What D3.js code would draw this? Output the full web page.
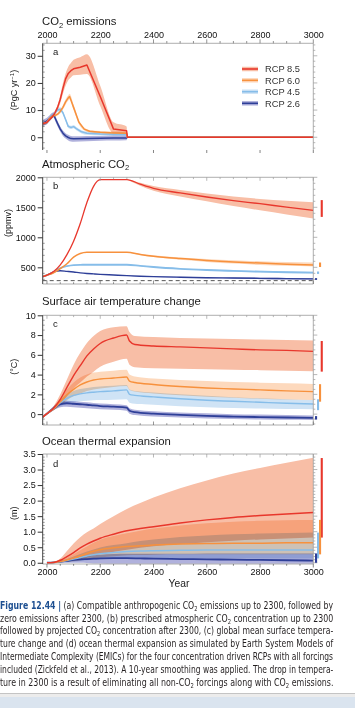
<!DOCTYPE html>
<html><head><meta charset="utf-8">
<script src="https://cdn.jsdelivr.net/npm/d3@7/dist/d3.min.js"></script>
<style>
html,body{margin:0;padding:0;background:#fff;}
svg{display:block;}
</style></head>
<body><svg id="c" width="355" height="708"></svg>
<script>
// ---------------- DATA ----------------
const rcpNames = ['RCP 8.5', 'RCP 6.0', 'RCP 4.5', 'RCP 2.6'];
const xTickYears = [2000, 2200, 2400, 2600, 2800, 3000];

// (a) CO2 emissions (PgC/yr)
const emisYears85 = [1984, 2000, 2010, 2020, 2030, 2040, 2050, 2060, 2070, 2080, 2090, 2100, 2125, 2150, 2200, 2250, 2299, 2302, 3000];
const emis85   = [5.0, 5.5, 6.5, 7.5, 9.0, 11.0, 14.0, 18.0, 21.5, 23.5, 24.5, 25.2, 25.8, 26.6, 15.0, 3.0, 2.4, 0, 0];
const emis85Lo = [4.5, 5.0, 6.0, 7.0, 8.5, 10.0, 12.5, 16.0, 19.0, 21.0, 22.0, 22.8, 23.0, 23.3, 11.5, 1.5, 1.5, 0, 0];
const emis85Hi = [5.5, 6.2, 7.2, 8.2, 9.8, 12.0, 15.5, 20.0, 23.5, 26.0, 27.3, 28.5, 29.5, 30.6, 19.0, 5.5, 4.0, 0, 0];

const emisYears60 = [1984, 2000, 2010, 2020, 2030, 2040, 2050, 2060, 2070, 2080, 2085, 2100, 2120, 2140, 2160, 2200, 2250, 2299, 2302, 3000];
const emis60   = [5.0, 5.5, 7.0, 7.8, 8.0, 8.5, 9.5, 11.0, 13.0, 14.5, 15.0, 11.0, 5.5, 3.0, 2.2, 1.8, 1.6, 1.5, 0, 0];
const emis60Lo = [4.7, 5.2, 6.6, 7.3, 7.5, 8.0, 8.8, 10.2, 12.0, 13.5, 14.0, 10.0, 4.8, 2.5, 1.8, 1.4, 1.2, 1.0, 0, 0];
const emis60Hi = [5.3, 5.8, 7.4, 8.3, 8.5, 9.0, 10.2, 11.8, 14.0, 15.5, 16.0, 12.0, 6.3, 3.6, 2.7, 2.3, 2.1, 2.0, 0, 0];

const emisYears45 = [1984, 2000, 2010, 2020, 2030, 2040, 2050, 2060, 2070, 2080, 2090, 2100, 2110, 2130, 2150, 2200, 2250, 2299, 2302, 3000];
const emis45   = [5.0, 5.5, 7.0, 8.0, 9.0, 10.0, 10.3, 9.0, 6.5, 4.0, 3.6, 3.9, 3.2, 2.0, 1.5, 1.2, 1.1, 1.0, 0, 0];
const emis45Lo = [4.5, 5.0, 6.4, 7.4, 8.4, 9.4, 9.6, 8.3, 5.8, 3.4, 3.0, 3.3, 2.6, 1.4, 0.9, 0.6, 0.5, 0.4, 0, 0];
const emis45Hi = [5.5, 6.0, 7.6, 8.6, 9.6, 10.6, 11.0, 9.7, 7.2, 4.6, 4.2, 4.5, 3.8, 2.6, 2.1, 1.8, 1.7, 1.6, 0, 0];

const emisYears26 = [1984, 1990, 2000, 2010, 2020, 2025, 2030, 2040, 2050, 2060, 2070, 2080, 2090, 2100, 2150, 2200, 2250, 2299, 2302, 3000];
const emis26   = [5.0, 5.5, 6.0, 7.0, 8.0, 8.2, 7.2, 5.0, 3.0, 1.5, 0.5, -0.1, -0.5, -0.6, -0.5, -0.4, -0.3, -0.3, 0, 0];
const emis26Lo = [3.8, 4.3, 4.8, 5.9, 7.0, 7.3, 6.2, 4.0, 2.0, 0.5, -0.5, -1.2, -1.6, -1.7, -1.5, -1.3, -1.2, -1.1, 0, 0];
const emis26Hi = [6.3, 6.7, 7.2, 8.1, 9.0, 9.2, 8.2, 6.0, 4.0, 2.5, 1.5, 0.9, 0.5, 0.4, 0.5, 0.5, 0.6, 0.6, 0, 0];

// (b) Atmospheric CO2 (ppmv)
const co2Years = [1984, 2000, 2025, 2050, 2075, 2100, 2125, 2150, 2175, 2200, 2250, 2300, 2350, 2400, 2500, 2600, 2700, 2800, 2900, 3000];
const co285 = [345, 369, 430, 541, 712, 936, 1231, 1580, 1850, 1960, 1962, 1962, 1885, 1815, 1740, 1672, 1612, 1560, 1503, 1450];
const co260 = [345, 369, 410, 478, 560, 670, 730, 750, 752, 752, 752, 752, 715, 685, 645, 615, 590, 570, 553, 540];
const co245 = [345, 369, 420, 487, 520, 538, 542, 543, 543, 543, 543, 543, 525, 505, 475, 455, 440, 428, 418, 410];
const co226 = [345, 369, 425, 443, 432, 421, 408, 398, 390, 383, 372, 361, 352, 345, 335, 327, 321, 316, 312, 308];
const co2BandYears = [2300, 2350, 2400, 2500, 2600, 2700, 2800, 2900, 3000];
const co285Lo = [1962, 1860, 1775, 1680, 1600, 1520, 1450, 1380, 1315];
const co285Hi = [1962, 1910, 1855, 1790, 1730, 1680, 1640, 1610, 1585];
const co260Lo = [752, 705, 670, 625, 590, 562, 540, 525, 515];
const co260Hi = [752, 725, 700, 665, 640, 618, 600, 588, 580];
const co245Lo = [543, 520, 498, 466, 445, 428, 415, 404, 395];
const co245Hi = [543, 530, 512, 484, 465, 452, 442, 435, 428];
const co226Lo = [361, 348, 340, 328, 318, 310, 303, 298, 293];
const co226Hi = [361, 356, 350, 342, 336, 332, 328, 324, 320];
const preindustrialCO2 = 278;

// (c) Surface air temperature change (degC)
const tYears = [1984, 2000, 2025, 2050, 2075, 2100, 2125, 2150, 2175, 2200, 2250, 2299, 2310, 2330, 2400, 2500, 2600, 2700, 2800, 2900, 3000];
const t85   = [-0.3, 0.05, 0.6, 1.5, 2.7, 3.9, 4.9, 5.9, 6.6, 7.15, 7.7, 8.0, 7.4, 7.05, 6.9, 6.8, 6.7, 6.6, 6.5, 6.45, 6.35];
const t85Lo = [-0.4, -0.05, 0.4, 1.0, 1.8, 2.6, 3.2, 3.8, 4.3, 4.8, 5.3, 5.6, 5.0, 4.75, 4.65, 4.6, 4.55, 4.5, 4.45, 4.4, 4.35];
const t85Hi = [-0.2, 0.15, 0.8, 2.0, 3.5, 5.0, 6.2, 7.2, 7.9, 8.4, 8.8, 8.9, 8.3, 7.9, 7.8, 7.7, 7.65, 7.6, 7.55, 7.5, 7.45];
const t60   = [-0.3, 0.05, 0.55, 1.25, 1.95, 2.5, 2.95, 3.25, 3.45, 3.55, 3.65, 3.75, 3.35, 3.2, 3.0, 2.8, 2.65, 2.55, 2.45, 2.35, 2.28];
const t60Lo = [-0.4, -0.05, 0.4, 0.9, 1.4, 1.8, 2.1, 2.35, 2.5, 2.6, 2.75, 2.85, 2.45, 2.3, 2.1, 1.9, 1.75, 1.65, 1.55, 1.48, 1.43];
const t60Hi = [-0.2, 0.15, 0.75, 1.6, 2.5, 3.2, 3.7, 4.0, 4.2, 4.3, 4.4, 4.5, 4.0, 3.8, 3.6, 3.45, 3.35, 3.25, 3.18, 3.12, 3.06];
const t45   = [-0.3, 0.05, 0.55, 1.15, 1.6, 1.9, 2.05, 2.15, 2.22, 2.28, 2.35, 2.45, 2.0, 1.9, 1.75, 1.55, 1.4, 1.3, 1.2, 1.1, 1.02];
const t45Lo = [-0.4, -0.05, 0.4, 0.8, 1.05, 1.2, 1.3, 1.35, 1.4, 1.42, 1.45, 1.5, 1.15, 1.05, 0.95, 0.8, 0.7, 0.62, 0.56, 0.52, 0.5];
const t45Hi = [-0.2, 0.15, 0.7, 1.45, 2.0, 2.35, 2.55, 2.65, 2.75, 2.8, 2.88, 2.95, 2.5, 2.35, 2.2, 2.0, 1.85, 1.7, 1.6, 1.5, 1.42];
const t26   = [-0.3, 0.05, 0.6, 1.0, 1.1, 1.05, 1.0, 0.95, 0.88, 0.82, 0.75, 0.65, 0.35, 0.2, 0.05, -0.08, -0.18, -0.25, -0.3, -0.34, -0.37];
const t26Lo = [-0.4, -0.05, 0.4, 0.7, 0.75, 0.7, 0.65, 0.6, 0.55, 0.5, 0.45, 0.35, 0.05, -0.1, -0.25, -0.35, -0.45, -0.5, -0.55, -0.58, -0.6];
const t26Hi = [-0.2, 0.15, 0.8, 1.25, 1.35, 1.3, 1.25, 1.2, 1.13, 1.07, 1.0, 0.9, 0.6, 0.45, 0.3, 0.17, 0.08, 0.0, -0.05, -0.1, -0.13];

// (d) Ocean thermal expansion (m)
const oYears = [2000, 2025, 2050, 2075, 2100, 2125, 2150, 2175, 2200, 2250, 2300, 2350, 2400, 2500, 2600, 2700, 2800, 2900, 3000];
const o85   = [0, 0.01, 0.08, 0.2, 0.33, 0.48, 0.6, 0.7, 0.79, 0.92, 1.03, 1.1, 1.16, 1.28, 1.38, 1.46, 1.52, 1.57, 1.62];
const o85Lo = [0, 0, 0.01, 0.04, 0.08, 0.13, 0.18, 0.23, 0.28, 0.35, 0.42, 0.48, 0.53, 0.6, 0.66, 0.71, 0.75, 0.78, 0.81];
const o85Hi = [0, 0.03, 0.14, 0.38, 0.62, 0.82, 0.98, 1.1, 1.25, 1.5, 1.73, 1.92, 2.1, 2.4, 2.65, 2.87, 3.05, 3.22, 3.38];
const o60   = [0, 0.01, 0.04, 0.09, 0.15, 0.22, 0.3, 0.37, 0.42, 0.48, 0.52, 0.55, 0.57, 0.6, 0.62, 0.63, 0.63, 0.64, 0.64];
const o60Lo = [0, 0, 0.01, 0.03, 0.05, 0.08, 0.11, 0.14, 0.17, 0.21, 0.24, 0.25, 0.26, 0.27, 0.27, 0.27, 0.27, 0.27, 0.27];
const o60Hi = [0, 0.02, 0.07, 0.16, 0.27, 0.4, 0.52, 0.64, 0.74, 0.86, 0.95, 1.03, 1.1, 1.2, 1.27, 1.32, 1.35, 1.37, 1.38];
const o45   = [0, 0.01, 0.03, 0.07, 0.12, 0.17, 0.22, 0.26, 0.29, 0.33, 0.36, 0.38, 0.39, 0.4, 0.41, 0.41, 0.41, 0.41, 0.41];
const o45Lo = [0, 0, 0.01, 0.02, 0.04, 0.06, 0.08, 0.1, 0.11, 0.13, 0.14, 0.14, 0.14, 0.14, 0.14, 0.14, 0.14, 0.14, 0.14];
const o45Hi = [0, 0.02, 0.06, 0.12, 0.2, 0.28, 0.36, 0.43, 0.49, 0.57, 0.63, 0.7, 0.75, 0.83, 0.88, 0.92, 0.94, 0.96, 0.97];
const o26   = [0, 0.01, 0.03, 0.06, 0.09, 0.11, 0.12, 0.13, 0.14, 0.15, 0.15, 0.14, 0.13, 0.12, 0.11, 0.1, 0.09, 0.08, 0.07];
const o26Lo = [0, 0, 0, 0.0, 0.0, 0.0, -0.01, -0.02, -0.02, -0.03, -0.03, -0.03, -0.03, -0.03, -0.03, -0.03, -0.03, -0.03, -0.03];
const o26Hi = [0, 0.02, 0.05, 0.1, 0.15, 0.19, 0.22, 0.24, 0.26, 0.28, 0.29, 0.29, 0.29, 0.29, 0.3, 0.3, 0.3, 0.3, 0.3];

// Ranges at year 3000 shown as bars right of panels [lo, hi] per RCP (8.5, 6.0, 4.5, 2.6)
const barsB = [[1340, 1620], [505, 580], [390, 430], [290, 320]];
const barsC = [[4.3, 7.4], [1.26, 3.03], [0.4, 1.5], [-0.55, -0.2]];
const barsD = [[0.81, 3.37], [0.27, 1.38], [0.14, 0.97], [0.0, 0.3]];

const captionLines = [
  ' (a) Compatible anthropogenic CO₂ emissions up to 2300, followed by',
  'zero emissions after 2300, (b) prescribed atmospheric CO₂ concentration up to 2300',
  'followed by projected CO₂ concentration after 2300, (c) global mean surface tempera-',
  'ture change and (d) ocean thermal expansion as simulated by Earth System Models of',
  'Intermediate Complexity (EMICs) for the four concentration driven RCPs with all forcings',
  'included (Zickfeld et al., 2013). A 10-year smoothing was applied. The drop in tempera-',
  'ture in 2300 is a result of eliminating all non-CO₂ forcings along with CO₂ emissions.'
];
const captionLabel = 'Figure 12.44 |';

// ---------------- STYLE ----------------
const lineCol = ['#e8372c', '#f7913d', '#86bde9', '#2e3f98'];
const bandCol = ['#f8bea6', '#fdd9bd', '#cfe3f5', '#b0b1dc'];
const FONT = '"Liberation Sans", Arial, Helvetica, sans-serif';
const TICKFS = 9;

const svg = d3.select('#c');
svg.append('rect').attr('width', 355).attr('height', 708).attr('fill', '#fff');

const x = d3.scaleLinear().domain([1984, 3000]).range([42.7, 313.3]);
const X0 = 42.7, X1 = 313.3;

function zip(ys, vs) { return ys.map((y, i) => [y, vs[i]]); }
function zip3(ys, lo, hi) { return ys.map((y, i) => [y, lo[i], hi[i]]); }

function panel(cfg) {
  const y = d3.scaleLinear().domain(cfg.domain).range([cfg.bottom, cfg.top]);
  const g = svg.append('g');
  const cid = 'clip' + cfg.id;
  svg.append('clipPath').attr('id', cid).append('rect')
    .attr('x', X0).attr('y', cfg.top).attr('width', X1 - X0).attr('height', cfg.bottom - cfg.top);
  const plot = g.append('g').attr('clip-path', `url(#${cid})`);
  const area = d3.area().x(d => x(d[0])).y0(d => y(d[1])).y1(d => y(d[2])).curve(d3.curveMonotoneX);
  const line = d3.line().x(d => x(d[0])).y(d => y(d[1])).curve(d3.curveMonotoneX);
  cfg.bands.forEach(b => {
    plot.append('path').datum(b.data).attr('d', area).attr('fill', b.color)
      .style('mix-blend-mode', 'multiply');
  });
  if (cfg.extra) cfg.extra(plot, y);
  cfg.lines.forEach(l => {
    plot.append('path').datum(l.data).attr('d', l.linear ? d3.line().x(d => x(d[0])).y(d => y(d[1])) : line)
      .attr('fill', 'none').attr('stroke', l.color).attr('stroke-width', l.w || 1.4)
      .attr('stroke-linejoin', 'round');
  });
  const fc = '#9a9a9a';
  g.append('line').attr('x1', X0).attr('x2', X1).attr('y1', cfg.top).attr('y2', cfg.top).attr('stroke', fc).attr('stroke-width', 0.8);
  g.append('line').attr('x1', X1).attr('x2', X1).attr('y1', cfg.top).attr('y2', cfg.bottom).attr('stroke', fc).attr('stroke-width', 0.8);
  if (!cfg.noBottom)
    g.append('line').attr('x1', X0).attr('x2', X1).attr('y1', cfg.bottom).attr('y2', cfg.bottom).attr('stroke', fc).attr('stroke-width', 0.8);
  const rMinor = d3.range(Math.ceil(cfg.domain[0] / cfg.minor) * cfg.minor, cfg.domain[1] + 1e-9, cfg.minor);
  rMinor.forEach(v => {
    const isMaj = Math.abs(v / cfg.major - Math.round(v / cfg.major)) < 1e-6;
    g.append('line').attr('x1', X1).attr('x2', X1 + (isMaj ? 4 : 2)).attr('y1', y(v)).attr('y2', y(v))
      .attr('stroke', fc).attr('stroke-width', 0.7);
    g.append('line').attr('x1', X0).attr('x2', X0 + (isMaj ? 0 : 2)).attr('y1', y(v)).attr('y2', y(v))
      .attr('stroke', '#555').attr('stroke-width', 0.6);
  });
  const ax = d3.axisLeft(y).tickValues(cfg.ticks).tickSize(5).tickPadding(2).tickSizeOuter(0)
    .tickFormat(cfg.fmt || d3.format('d'));
  const ag = g.append('g').attr('transform', `translate(${X0},0)`).call(ax);
  ag.select('.domain').attr('stroke', '#444').attr('stroke-width', 1)
    .attr('d', `M0,${cfg.top}V${cfg.bottom}`);
  ag.selectAll('.tick line').attr('stroke', '#333');
  ag.selectAll('text').attr('font-family', FONT).attr('font-size', TICKFS).attr('fill', '#111');
  const minorYears = d3.range(2000, 3001, 50);
  minorYears.forEach(yr => {
    const maj = yr % 200 === 0;
    const len = maj ? 3.5 : 1.8;
    if (cfg.id === 'a') {
      g.append('line').attr('x1', x(yr)).attr('x2', x(yr)).attr('y1', cfg.top).attr('y2', cfg.top - len - 0.5).attr('stroke', '#666').attr('stroke-width', 0.7);
    } else {
      g.append('line').attr('x1', x(yr)).attr('x2', x(yr)).attr('y1', cfg.top).attr('y2', cfg.top + len).attr('stroke', fc).attr('stroke-width', 0.7);
    }
    if (cfg.id === 'd') {
      g.append('line').attr('x1', x(yr)).attr('x2', x(yr)).attr('y1', cfg.bottom).attr('y2', cfg.bottom + len).attr('stroke', '#555').attr('stroke-width', 0.7);
    } else if (cfg.id === 'a') {
      if (maj) g.append('line').attr('x1', x(yr)).attr('x2', x(yr)).attr('y1', cfg.bottom).attr('y2', cfg.bottom + 3).attr('stroke', '#666').attr('stroke-width', 0.8);
    } else {
      g.append('line').attr('x1', x(yr)).attr('x2', x(yr)).attr('y1', cfg.bottom).attr('y2', cfg.bottom - len).attr('stroke', '#666').attr('stroke-width', 0.7);
    }
  });
  if (cfg.id === 'a') {
    const top = d3.axisTop(x).tickValues(xTickYears).tickSize(0).tickPadding(5.5).tickFormat(d3.format('d'));
    const tg = g.append('g').attr('transform', `translate(0,${cfg.top})`).call(top);
    tg.select('.domain').remove();
    tg.selectAll('text').attr('font-family', FONT).attr('font-size', TICKFS).attr('fill', '#111');
  }
  if (cfg.id === 'd') {
    const bot = d3.axisBottom(x).tickValues(xTickYears).tickSize(0).tickPadding(5).tickFormat(d3.format('d'));
    const bg = g.append('g').attr('transform', `translate(0,${cfg.bottom})`).call(bot);
    bg.select('.domain').remove();
    bg.selectAll('text').attr('font-family', FONT).attr('font-size', TICKFS).attr('fill', '#111');
  }
  if (cfg.bars) {
    const bx = [321.7, 320, 318, 316];
    cfg.bars.forEach((b, i) => {
      g.append('rect').attr('x', bx[i] - 1).attr('width', 2.1)
        .attr('y', y(b[1])).attr('height', Math.max(1.5, y(b[0]) - y(b[1])))
        .attr('fill', lineCol[i]);
    });
  }
  const t = g.append('text').attr('x', 42).attr('y', cfg.titleY).attr('font-family', FONT)
    .attr('font-size', 11.3).attr('fill', '#1a1a1a');
  cfg.title.forEach(s => {
    if (s.sub) t.append('tspan').attr('font-size', 7.5).attr('dy', 2.5).text(s.t);
    else t.append('tspan').attr('dy', s.after ? -2.5 : 0).text(s.t);
  });
  g.append('text').attr('x', 53).attr('y', cfg.letterY).attr('font-family', FONT).attr('font-size', 9.5)
    .attr('fill', '#1a1a1a').text(cfg.id);
  const yl = g.append('text').attr('transform', `translate(${cfg.ylabX},${cfg.ylabY}) rotate(-90)`)
    .attr('text-anchor', 'middle').attr('font-family', FONT).attr('font-size', 9).attr('fill', '#1a1a1a');
  cfg.ylab.forEach(s => {
    if (s.sup) yl.append('tspan').attr('font-size', 6).attr('dy', -3).text(s.t);
    else yl.append('tspan').attr('dy', s.after ? 3 : 0).text(s.t);
  });
  return { y, g };
}

// Panel a
panel({
  id: 'a', top: 43.3, bottom: 150, domain: [-4.7, 34.6], ticks: [0, 10, 20, 30], minor: 2, major: 10, noBottom: true,
  titleY: 25, letterY: 55, ylabX: 16.5, ylabY: 90,
  title: [{ t: 'CO' }, { t: '2', sub: 1 }, { t: ' emissions', after: 1 }],
  ylab: [{ t: '(PgC yr' }, { t: '−1', sup: 1 }, { t: ')', after: 1 }],
  bands: [
    { data: zip3(emisYears85, emis85Lo, emis85Hi), color: bandCol[0] },
    { data: zip3(emisYears60, emis60Lo, emis60Hi), color: bandCol[1] },
    { data: zip3(emisYears45, emis45Lo, emis45Hi), color: bandCol[2] },
    { data: zip3(emisYears26, emis26Lo, emis26Hi), color: bandCol[3] }
  ],
  lines: [
    { data: zip(emisYears26, emis26), color: lineCol[3], w: 1.5, linear: 1 },
    { data: zip(emisYears45, emis45), color: lineCol[2], w: 1.5, linear: 1 },
    { data: zip(emisYears60, emis60), color: lineCol[1], w: 1.5, linear: 1 },
    { data: zip(emisYears85, emis85), color: lineCol[0], w: 1.5, linear: 1 }
  ]
});
const legY = [69, 80.3, 91.7, 103.3];
rcpNames.forEach((n, i) => {
  svg.append('line').attr('x1', 242).attr('x2', 258).attr('y1', legY[i]).attr('y2', legY[i])
    .attr('stroke', bandCol[i]).attr('stroke-width', 4.5);
  svg.append('line').attr('x1', 242).attr('x2', 258).attr('y1', legY[i]).attr('y2', legY[i])
    .attr('stroke', lineCol[i]).attr('stroke-width', 1.6);
  svg.append('text').attr('x', 265).attr('y', legY[i] + 3.3).attr('font-family', FONT).attr('font-size', 9.3)
    .attr('fill', '#333').text(n);
});

// Panel b
panel({
  id: 'b', top: 177.3, bottom: 284, domain: [222, 2000], ticks: [500, 1000, 1500, 2000], minor: 100, major: 500,
  titleY: 167.7, letterY: 189, ylabX: 10.5, ylabY: 223,
  title: [{ t: 'Atmospheric CO' }, { t: '2', sub: 1 }],
  ylab: [{ t: '(ppmv)' }],
  bands: [
    { data: zip3(co2BandYears, co285Lo, co285Hi), color: bandCol[0] },
    { data: zip3(co2BandYears, co260Lo, co260Hi), color: bandCol[1] },
    { data: zip3(co2BandYears, co245Lo, co245Hi), color: bandCol[2] },
    { data: zip3(co2BandYears, co226Lo, co226Hi), color: bandCol[3] }
  ],
  extra: (p, y) => {
    p.append('line').attr('x1', X0).attr('x2', X1).attr('y1', y(preindustrialCO2)).attr('y2', y(preindustrialCO2))
      .attr('stroke', '#444').attr('stroke-width', 0.9).attr('stroke-dasharray', '4,3');
  },
  lines: [
    { data: zip(co2Years, co226), color: lineCol[3], w: 1.4 },
    { data: zip(co2Years, co245), color: lineCol[2], w: 1.8 },
    { data: zip(co2Years, co260), color: lineCol[1], w: 1.5 },
    { data: zip(co2Years, co285), color: lineCol[0], w: 1.3 }
  ],
  bars: barsB
});

// Panel c
panel({
  id: 'c', top: 315.3, bottom: 425, domain: [-1.1, 10], ticks: [0, 2, 4, 6, 8, 10], minor: 0.5, major: 2,
  titleY: 305.3, letterY: 327.3, ylabX: 17, ylabY: 366.7,
  title: [{ t: 'Surface air temperature change' }],
  ylab: [{ t: '(°C)' }],
  bands: [
    { data: zip3(tYears, t85Lo, t85Hi), color: bandCol[0] },
    { data: zip3(tYears, t60Lo, t60Hi), color: bandCol[1] },
    { data: zip3(tYears, t45Lo, t45Hi), color: bandCol[2] },
    { data: zip3(tYears, t26Lo, t26Hi), color: bandCol[3] }
  ],
  lines: [
    { data: zip(tYears, t26), color: lineCol[3], w: 1.8 },
    { data: zip(tYears, t45), color: lineCol[2], w: 1.4 },
    { data: zip(tYears, t60), color: lineCol[1], w: 1.4 },
    { data: zip(tYears, t85), color: lineCol[0], w: 1.4 }
  ],
  bars: barsC
});

// Panel d
panel({
  id: 'd', top: 454, bottom: 564, domain: [-0.04, 3.5], ticks: [0, 0.5, 1, 1.5, 2, 2.5, 3, 3.5], minor: 0.1, major: 0.5,
  fmt: d3.format('.1f'),
  titleY: 445, letterY: 466.7, ylabX: 17, ylabY: 513.3,
  title: [{ t: 'Ocean thermal expansion' }],
  ylab: [{ t: '(m)' }],
  bands: [
    { data: zip3(oYears, o85Lo, o85Hi), color: bandCol[0] },
    { data: zip3(oYears, o60Lo, o60Hi), color: bandCol[1] },
    { data: zip3(oYears, o45Lo, o45Hi), color: bandCol[2] },
    { data: zip3(oYears, o26Lo, o26Hi), color: bandCol[3] }
  ],
  lines: [
    { data: zip(oYears, o26), color: lineCol[3], w: 1.8 },
    { data: zip(oYears, o45), color: lineCol[2], w: 1.5 },
    { data: zip(oYears, o60), color: lineCol[1], w: 1.5 },
    { data: zip(oYears, o85), color: lineCol[0], w: 1.5 }
  ],
  bars: barsD
});
svg.append('text').attr('x', 179).attr('y', 586.5).attr('text-anchor', 'middle').attr('font-family', FONT)
  .attr('font-size', 10.3).attr('fill', '#1a1a1a').text('Year');

// ---------------- CAPTION ----------------
const CFONT = '"Liberation Sans Narrow", "DejaVu Sans Condensed", "Roboto Condensed", "Liberation Sans", sans-serif';
const capX0 = 0, capX1 = 333.5, capY0 = 608.7, capDy = 12.85;
captionLines.forEach((ln, i) => {
  const gl = svg.append('g');
  const t = gl.append('text').attr('x', 0).attr('y', 0)
    .attr('font-family', CFONT).attr('font-stretch', 'condensed').attr('font-size', 10.3).attr('fill', '#231f20');
  if (i === 0) t.append('tspan').attr('font-weight', 'bold').attr('fill', '#1d4f91').text(captionLabel);
  const parts = ln.split('₂');
  parts.forEach((p, k) => {
    t.append('tspan').attr('dy', k > 0 ? -2 : null).text(p);
    if (k < parts.length - 1) t.append('tspan').attr('font-size', 6.8).attr('dy', 2).text('2');
  });
  const node = t.node();
  const w = node.getComputedTextLength();
  const target = capX1 - capX0;
  const spaces = (node.textContent.match(/ /g) || []).length;
  let sx = 1;
  if (w <= target) t.attr('word-spacing', (target - w) / spaces);
  else sx = target / w;
  gl.attr('transform', `translate(${capX0},${capY0 + i * capDy}) scale(${sx},1)`);
});

// bottom window strip
svg.append('rect').attr('x', 0).attr('y', 693).attr('width', 355).attr('height', 4).attr('fill', '#ececec');
svg.append('line').attr('x1', 0).attr('x2', 355).attr('y1', 693.5).attr('y2', 693.5).attr('stroke', '#c4c4c4');
svg.append('rect').attr('x', 0).attr('y', 697).attr('width', 355).attr('height', 11).attr('fill', '#dae4ef');
</script>
</body></html>
